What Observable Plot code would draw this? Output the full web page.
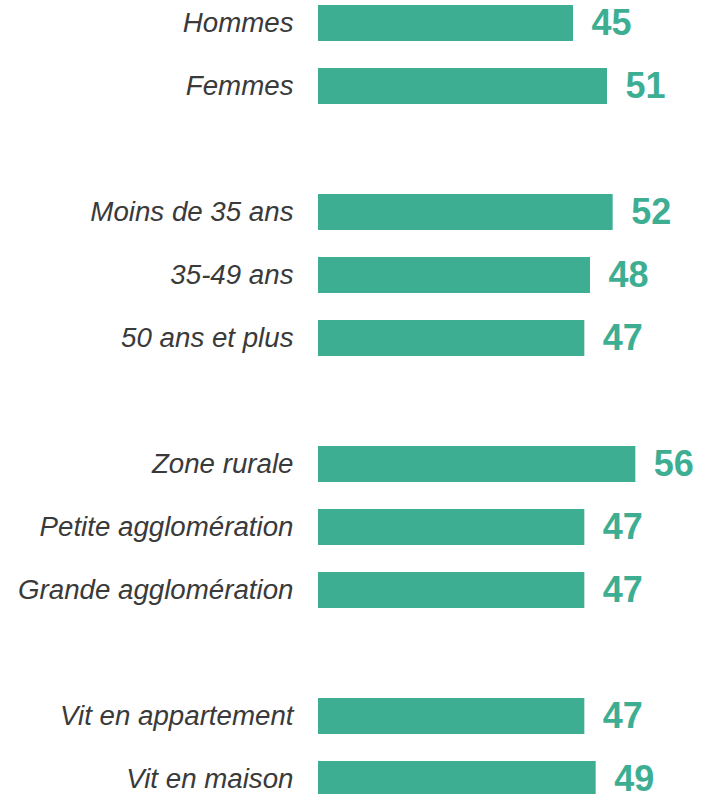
<!DOCTYPE html>
<html>
<head>
<meta charset="utf-8">
<script src="https://cdn.jsdelivr.net/npm/d3@7"></script>
<script src="https://cdn.jsdelivr.net/npm/@observablehq/plot@0.6"></script>
<style>
  html, body { margin: 0; padding: 0; background: #fff; }
  #chart { width: 712px; height: 794px; overflow: hidden; }
</style>
</head>
<body>
<div id="chart"></div>
<script>
// Rows (blank strings are spacer rows between groups)
const categories = [
  "Hommes", "Femmes", " ",
  "Moins de 35 ans", "35-49 ans", "50 ans et plus", "  ",
  "Zone rurale", "Petite agglomération", "Grande agglomération", "   ",
  "Vit en appartement", "Vit en maison"
];
const labels = [
  "Hommes", "Femmes",
  "Moins de 35 ans", "35-49 ans", "50 ans et plus",
  "Zone rurale", "Petite agglomération", "Grande agglomération",
  "Vit en appartement", "Vit en maison"
];
const values = [45, 51, 52, 48, 47, 56, 47, 47, 47, 49];

const data = labels.map((l, i) => ({label: l, value: values[i]}));

const barColor = "#3eae93";
const step = 63.08;
const firstCenter = 22.5;

const chart = Plot.plot({
  width: 712,
  height: 794,
  marginLeft: 318,
  marginRight: 54,
  marginTop: 0,
  marginBottom: 0,
  style: {fontFamily: "'Liberation Sans', Arial, sans-serif", background: "#fff"},
  x: {domain: [0, 60], axis: null},
  y: {
    domain: categories,
    range: [firstCenter - step / 2, firstCenter - step / 2 + step * categories.length],
    paddingInner: 0.43,
    paddingOuter: 0.215,
    align: 0.5,
    axis: null
  },
  marks: [
    Plot.barX(data, {x: "value", y: "label", fill: barColor}),
    Plot.text(data, {
      x: 0, y: "label", text: "label",
      textAnchor: "end", dx: -25, dy: 0,
      fontSize: 27.7, fontStyle: "italic", fill: "#3a3a3a"
    }),
    Plot.text(data, {
      x: "value", y: "label", text: d => String(d.value),
      textAnchor: "start", dx: 18, dy: 0,
      fontSize: 36, fontWeight: "bold", fill: barColor
    })
  ]
});
document.getElementById("chart").appendChild(chart);
</script>
</body>
</html>
